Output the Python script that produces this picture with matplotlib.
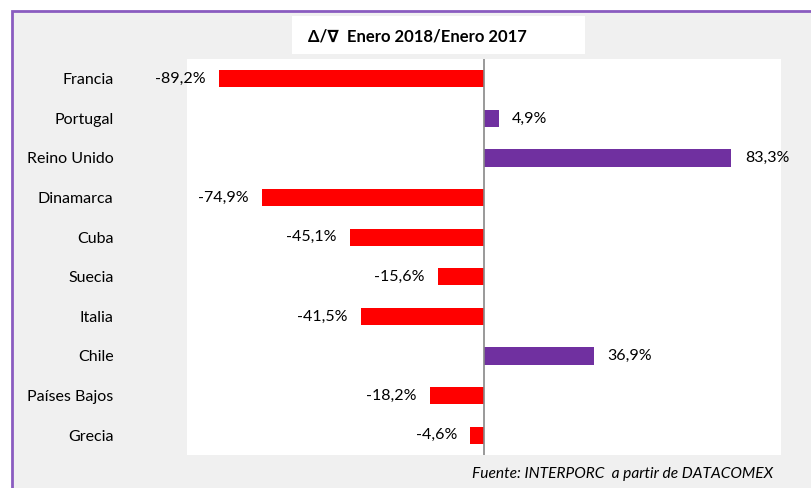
import matplotlib
matplotlib.use("Agg")
import matplotlib.pyplot as plt
from matplotlib.patches import Rectangle

paises = ["Francia", "Portugal", "Reino Unido", "Dinamarca", "Cuba",
          "Suecia", "Italia", "Chile", "Países Bajos", "Grecia"]
variacion = [-89.2, 4.9, 83.3, -74.9, -45.1, -15.6, -41.5, 36.9, -18.2, -4.6]

W, H = 811, 488
fig = plt.figure(figsize=(W / 100, H / 100), dpi=100)
fig.patch.set_facecolor("white")

FONT = ["Lato", "DejaVu Sans"]

# gray panel with purple frame
fig.patches.append(Rectangle((12 / W, -0.05), 1.0, 1.05 - 11 / H, transform=fig.transFigure,
                             facecolor="#f0f0f0", edgecolor="#8a5cc0", linewidth=2.0,
                             zorder=-2))

# title box
fig.patches.append(Rectangle((292 / W, 1 - 54 / H), (585 - 292) / W, 38 / H,
                             transform=fig.transFigure, facecolor="white",
                             edgecolor="none", zorder=-1))
fig.text(308 / W, 1 - 36 / H, "Δ/∇  Enero 2018/Enero 2017", ha="left", va="center",
         fontsize=12, fontweight="bold", family=FONT, color="black")

ax = fig.add_axes([187 / W, 1 - 455 / H, (781 - 187) / W, (455 - 59) / H])
ax.set_zorder(5)
ax.set_facecolor("white")
ypos = list(range(len(paises)))
colores = ["#FF0000" if v < 0 else "#7030A0" for v in variacion]
ax.barh(ypos, variacion, height=0.43, color=colores, zorder=2)
ax.axvline(0, color="#888888", linewidth=1.2, zorder=3)
ax.set_xlim(-100, 100)
ax.set_ylim(len(paises) - 0.5, -0.5)
for s in ax.spines.values():
    s.set_visible(False)
ax.set_xticks([])
ax.set_yticks(ypos)
ax.set_yticklabels(paises, family=FONT, fontsize=11.5)
ax.tick_params(axis="y", length=0, pad=53)

for y, v in zip(ypos, variacion):
    txt = f"{v:.1f}%".replace(".", ",")
    if v < 0:
        ax.text(v - 4.5, y, txt, ha="right", va="center", fontsize=11.5, family=FONT)
    else:
        ax.text(v + 4.5, y, txt, ha="left", va="center", fontsize=11.5, family=FONT)

fig.text(773 / W, 1 - 474 / H, "Fuente: INTERPORC  a partir de DATACOMEX", ha="right",
         va="center", fontsize=11.2, style="italic", family=FONT, color="black")

fig.savefig("out.png", dpi=100)
